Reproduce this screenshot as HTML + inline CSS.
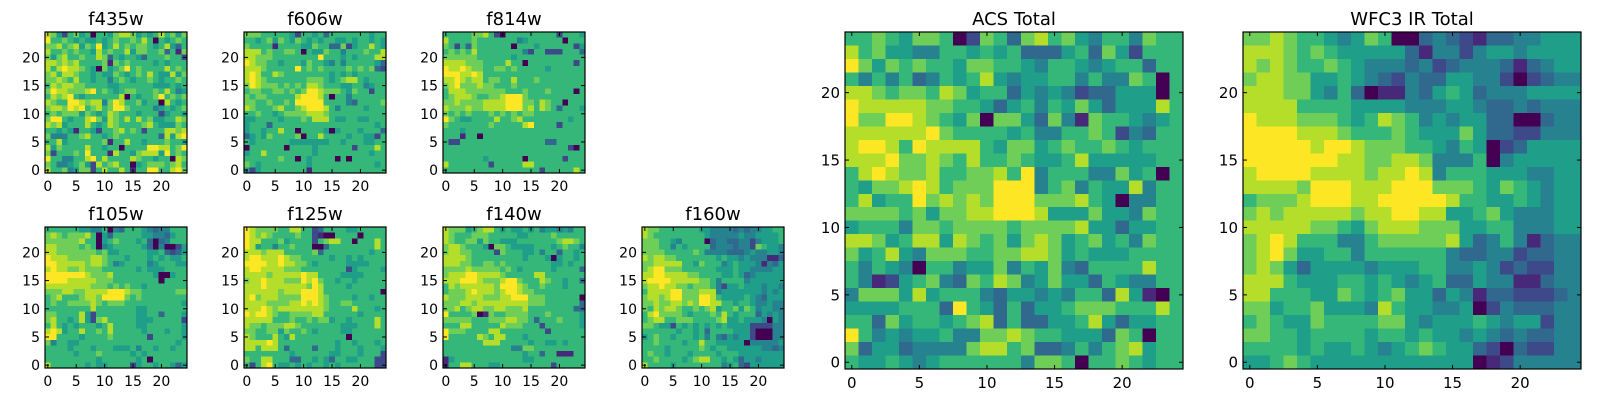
<!DOCTYPE html>
<html><head><meta charset="utf-8"><style>
html,body{margin:0;padding:0;background:#fff;}
svg{display:block;font-family:"DejaVu Sans","Liberation Sans",sans-serif;}
</style></head><body>
<svg id="fig" width="1600" height="400" viewBox="0 0 1600 400" xmlns="http://www.w3.org/2000/svg"></svg>
<script>
const ticks = [0,5,10,15,20];
const tickLabels = ["0","5","10","15","20"];
const titles = ["f435w","f606w","f814w","f105w","f125w","f140w","f160w","ACS Total","WFC3 IR Total"];
// rows listed top (y=24) to bottom (y=0); digits 0-9 = colormap level
const f435w = ["8752675606657887565686757","9667656556567667686065676","7786785769568676776568536","8667676658676685776673617","7578667668736566536667662","8878786666717676666565666","8689887650756796766668676","7868876656557656768655857","7787686656646765667656676","6878877666655666666555656","7988777896765677666768645","6878965666666806566796767","8766998788479866756608656","7887989678679976666456567","6767775765687666566625665","7996566897587686867556687","8785666865687666678655576","6656516652667867626668878","7444667866567666666638589","6685666666716686656667665","8576666866566066669988679","7266676966618665788859676","9664466896866668766566087","7644567528678660567776786","8667457726866861669966897"];
const f606w = ["7776666652665636666666566","6656757657656566556566565","7666616666557663372566865","8886766776065576646667668","8877766666666966656566688","9877665666576654646666653","8887666669676766667676732","8986687666666665656566666","8987666666677765678865666","7987776767688766655664566","6776677676799877765766266","7677666668999860664666666","7766766769999966664366667","8766678667899986466665666","6676656777788876666666666","5566665666768886556655666","5666366666666666666666656","5665668660666650566656663","3565766667066866665665526","6566666655555556656665566","0666666066665666666266686","5668666666665666666666566","6666667660656666060666666","7656666666656666666666656","5256666666616666666666666"];
const f814w = ["6666677862066666666626665","8666676666666456666660666","7626376666660666566666625","6767686666666642662226663","7777776666665666666666666","8888777666686606666666626","9889877667767666665666666","9998898666666666666666666","8898788677668666766666666","7897778776667666666666666","6888777777766676667666606","6788876677899976666666666","7787777888899977687660666","8777877888899978687636665","7676766676767677666666666","9765566668667866666666566","7666666676666689666626666","6665666666666666666666666","6661660666666666666666666","6226666666666666663366666","6666666666666666666666206","6666666666666666666666666","6666666566666606666662666","8666666626666688666666666","6666666666666666626666686"];
const f105w = ["6666665544604366654344666","7876777860536666655443566","7777778660567666563034666","8877776760456666653040025","8877777776755666665563235","9888777788766656665656556","9988888788764566664566655","8988778777666666565556666","9999999877786666666500566","9999888887776666666606666","8888888877767676656666666","7778877888899987766666677","6786667887999976766666666","6766777787677766666666665","6666666686666666556666666","7766668526666666556636665","7866568527866666555666662","6865656665686666556666665","8985668667686666656665665","9966665666676666662666665","7466556666666666666666656","6666566656665556466566566","6666656667666665656666666","6666666665666666560666666","8666666565566662566566535"];
const f125w = ["9877776688662366665566666","9878766667662100666606666","9886667566662678866066686","9856646676660036666666686","8887888666667366666666566","8998889877666665665656666","9999889887765666665555666","8998888777666666662566665","8888788888988666655556666","7889888777989766566566666","8889888888879866665666666","8888887888999866666666660","8978887777999876666566566","8888777788989876677666666","8889878888888876666866656","9899876677778866666656666","8888866676676775665666686","8776777887666666655566686","7766775766765666655666666","8766686586666666660666666","8888986666666666566566656","8868886366663666566656665","6666666656666665566656662","7668866633665653665566622","6268965565656656566666622"];
const f140w = ["8777567886565565645545466","8766677766666556666766666","8766775766555666666678876","7887666507765555666567664","7887766662766655646636656","8888766666666656665056656","8887766776766666666556566","7777877777676566666566663","7888998888766666886666666","8889998777899766687665663","6878888887999876676665666","6777898887899877666666666","8777888777889997776666660","7778878888888887776666663","7786788778877786666666633","9666670176677776667666665","7777766677788776366676665","6668866666877766626666665","9777666688666666662666666","9666668768866656666666666","6666666888666665665565666","6666666666664477666666666","6666666666666656636611166","1566666666666655666666666","1668866655666666666266666"];
const f160w = ["8776666666554444343445566","8766666666654444454455556","7776654666603443344245556","7776646566663444344276554","7777666667644443334544554","8788776666666565545444113","7788888665766645655541435","7899777666666555655444455","8899888877666655653455555","8999988888776466664555555","7889887767776425565554554","6888899777888455555554545","7887899777998655556543555","7787788787998866566544544","7687887667678566757645544","6897777656667686566635454","6788667776666785565554054","7765526565656565555222244","6666665665636666555200044","5676656665646435455200044","6676666566866555550444445","6666566666765665555554434","6766566656666566655555555","6676666567886656535545555","8666656666666645632555555"];
const acs = ["6676577602763786754664766","8675544665656333563752666","9757676657766546654566366","6464634656854556646447606","8876776875663545423355506","9888887766535646575355586","9779987657077537417665456","8888889766665644667624366","8998698888657756766765666","8889778768667655685555566","6898778667786946664475606","6577898677799946746558466","6856697878799977786504466","7777675778899985557554766","5666477677776777785535566","8875688587675787567564766","7568547776677887565556666","6465406645574657436666866","6412567437687457553654466","4777585666435545466385106","5555666396536355677766686","6637566567836335568535566","9645455644778766555376066","7355344447886733464678566","6556545666666477606676566"];
const wfc3 = ["7787665457600343213344555","8887676555553144245545555","8787667654443423444313455","7887755654324335544202344","8887754630114356534445555","8888666655554445543343444","9888777656876454553300344","9999888766676555753322444","9999989987776654650235555","9999999887788744460455555","8999988887889846665554455","8888799988899977765765455","6777899988999998665565455","7878888878899885567544455","8888877657888777556644455","7898666446777778534641344","7897556646666664334423344","7875355554555664454232244","8886555665654563354411344","8866655765675535413322234","7756675554865544502433344","6765576666775455565455244","7766566665665655454343344","6666565565456765532032244","5567655555555555501244444"];
const panelData = [f435w,f606w,f814w,f105w,f125w,f140w,f160w,acs,wfc3];
const panelSlug = ["f435w","f606w","f814w","f105w","f125w","f140w","f160w","acs-total","wfc3-ir-total"];

const VIR = [[68,1,84],[72,40,120],[62,73,137],[49,104,142],[38,130,142],[31,158,137],[53,183,121],[110,206,88],[181,222,43],[253,231,37]];
function color(v){const c=VIR[Math.max(0,Math.min(9,v))];return `rgb(${c[0]},${c[1]},${c[2]})`;}

const NS="http://www.w3.org/2000/svg";
const svg=document.getElementById('fig');
function mk(tag,attrs,parent){const e=document.createElementNS(NS,tag);for(const k in attrs)e.setAttribute(k,attrs[k]);(parent||svg).appendChild(e);return e;}

const layouts=[];
for(let i=0;i<3;i++)layouts.push({x:45+199*i,y:32,w:142,h:141,fs:14,tfs:18});
for(let i=0;i<4;i++)layouts.push({x:45+199*i,y:227,w:142,h:141,fs:14,tfs:18});
layouts.push({x:845,y:32,w:338,h:337,fs:15,tfs:18});
layouts.push({x:1243,y:32,w:338,h:337,fs:15,tfs:18});

panelData.forEach((rows,p)=>{
  const L=layouts[p];
  const g=mk('g',{});
  
  
  const cw=L.w/25, ch=L.h/25;
  const xs=v=>L.x+(v+0.5)*cw;
  const ys=v=>L.y+L.h-(v+0.5)*ch;
  const img=mk('g',{'shape-rendering':'crispEdges'},g);
  
  
  rows.forEach((row,r)=>{
    const yv=24-r;
    for(let c=0;c<row.length;c++){
      const v=+row[c];
      const rc=mk('rect',{x:(xs(c)-cw/2).toFixed(2),y:(ys(yv)-ch/2).toFixed(2),width:(cw+0.6).toFixed(2),height:(ch+0.6).toFixed(2),fill:color(v)},img);
      
      
    }
  });
  const fr=mk('rect',{x:L.x,y:L.y,width:L.w,height:L.h,fill:'none',stroke:'#000','stroke-width':1.2},g);
  
  
  ticks.forEach((t,k)=>{
    const X=xs(t),Y=ys(t);
    mk('line',{x1:X,y1:L.y+L.h,x2:X,y2:L.y+L.h-4,stroke:'#000'},g);
    mk('line',{x1:X,y1:L.y,x2:X,y2:L.y+4,stroke:'#000'},g);
    mk('line',{x1:L.x,y1:Y,x2:L.x+4,y2:Y,stroke:'#000'},g);
    mk('line',{x1:L.x+L.w,y1:Y,x2:L.x+L.w-4,y2:Y,stroke:'#000'},g);
    const tx=mk('text',{x:X,y:L.y+L.h+L.fs+4,'text-anchor':'middle','font-size':L.fs,fill:'#000'},g);
    tx.textContent=tickLabels[k];
    
    
    const ty=mk('text',{x:L.x-5,y:Y+L.fs*0.36,'text-anchor':'end','font-size':L.fs,fill:'#000'},g);
    ty.textContent=tickLabels[k];
    
    
  });
  const ti=mk('text',{x:L.x+L.w/2,y:L.y-7,'text-anchor':'middle','font-size':L.tfs,fill:'#000'},g);
  ti.textContent=titles[p];
  
  
});
</script>
</body></html>
